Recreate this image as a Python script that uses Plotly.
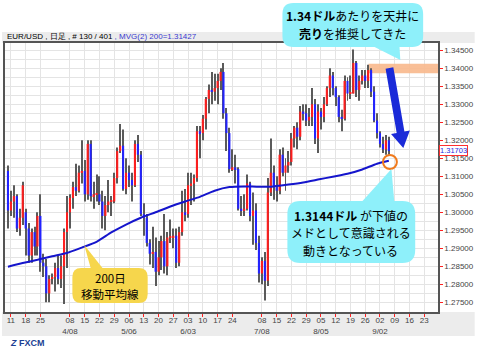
import plotly.graph_objects as go

# ---------------- data (EUR/USD daily, 2013-03-08 .. 2013-09-05) ----------------
opens = [1.3115, 1.3005, 1.3030, 1.3045, 1.2955, 1.2985, 1.3000, 1.2955, 1.2880, 1.2945,
         1.2905, 1.2990, 1.2860, 1.2850, 1.2775, 1.2815, 1.2820, 1.2845, 1.2815, 1.2850,
         1.2945, 1.3000, 1.3040, 1.3070, 1.3060, 1.3110, 1.3115, 1.3050, 1.3190, 1.3045,
         1.3050, 1.3050, 1.3030, 1.2990, 1.3020, 1.3030, 1.3030, 1.3095, 1.3170, 1.3185,
         1.3065, 1.3110, 1.3090, 1.3075, 1.3190, 1.3160, 1.2995, 1.2985, 1.2915, 1.2885,
         1.2890, 1.2835, 1.2875, 1.2920, 1.2850, 1.2930, 1.2930, 1.2935, 1.2860, 1.2945,
         1.3000, 1.2995, 1.3075, 1.3080, 1.3095, 1.3225, 1.3220, 1.3260, 1.3315, 1.3340,
         1.3335, 1.3345, 1.3365, 1.3390, 1.3275, 1.3220, 1.3120, 1.3125, 1.3120, 1.3010,
         1.3005, 1.3010, 1.3080, 1.2990, 1.3005, 1.2915, 1.2830, 1.2865, 1.2810, 1.3055,
         1.3110, 1.3070, 1.3060, 1.3160, 1.3110, 1.3130, 1.3140, 1.3205, 1.3235, 1.3210,
         1.3280, 1.3275, 1.3255, 1.3265, 1.3300, 1.3205, 1.3280, 1.3265, 1.3300, 1.3345,
         1.3380, 1.3345, 1.3320, 1.3265, 1.3260, 1.3365, 1.3330, 1.3330, 1.3415, 1.3340,
         1.3365, 1.3380, 1.3365, 1.3395, 1.3335, 1.3255, 1.3220, 1.3190, 1.3175, 1.3200]
highs = [1.3130, 1.3060, 1.3075, 1.3050, 1.3010, 1.3085, 1.3010, 1.2970, 1.2955, 1.2960,
         1.3000, 1.3050, 1.2885, 1.2870, 1.2825, 1.2830, 1.2860, 1.2880, 1.2880, 1.2955,
         1.3045, 1.3050, 1.3085, 1.3135, 1.3130, 1.3200, 1.3145, 1.3200, 1.3200, 1.3085,
         1.3105, 1.3100, 1.3060, 1.3045, 1.3090, 1.3045, 1.3110, 1.3180, 1.3245, 1.3230,
         1.3150, 1.3130, 1.3110, 1.3200, 1.3215, 1.3170, 1.3025, 1.2995, 1.2925, 1.2960,
         1.2930, 1.2920, 1.2935, 1.2995, 1.2945, 1.2980, 1.2955, 1.2955, 1.2960, 1.3060,
         1.3065, 1.3110, 1.3110, 1.3105, 1.3240, 1.3240, 1.3270, 1.3320, 1.3355, 1.3390,
         1.3385, 1.3385, 1.3400, 1.3415, 1.3290, 1.3235, 1.3175, 1.3160, 1.3125, 1.3045,
         1.3050, 1.3105, 1.3085, 1.3055, 1.3025, 1.2935, 1.2875, 1.2890, 1.3095, 1.3205,
         1.3130, 1.3100, 1.3175, 1.3180, 1.3150, 1.3170, 1.3220, 1.3240, 1.3250, 1.3295,
         1.3300, 1.3300, 1.3290, 1.3345, 1.3315, 1.3300, 1.3290, 1.3320, 1.3350, 1.3400,
         1.3390, 1.3350, 1.3325, 1.3285, 1.3380, 1.3375, 1.3380, 1.3452, 1.3420, 1.3380,
         1.3395, 1.3395, 1.3410, 1.3400, 1.3350, 1.3275, 1.3225, 1.3210, 1.3215, 1.3210]
lows = [1.2955, 1.2990, 1.2985, 1.2945, 1.2935, 1.2965, 1.2880, 1.2860, 1.2860, 1.2880,
        1.2880, 1.2835, 1.2820, 1.2750, 1.2750, 1.2800, 1.2780, 1.2800, 1.2790, 1.2745,
        1.2845, 1.2955, 1.3010, 1.3045, 1.3055, 1.3080, 1.3030, 1.3035, 1.3030, 1.3010,
        1.3030, 1.3020, 1.2955, 1.2950, 1.3000, 1.2990, 1.3025, 1.3080, 1.3165, 1.3060,
        1.3050, 1.3070, 1.3030, 1.3070, 1.3140, 1.2990, 1.2935, 1.2905, 1.2855, 1.2845,
        1.2795, 1.2825, 1.2840, 1.2830, 1.2825, 1.2915, 1.2900, 1.2845, 1.2850, 1.2935,
        1.2975, 1.2985, 1.3020, 1.3030, 1.3085, 1.3150, 1.3200, 1.3230, 1.3275, 1.3300,
        1.3310, 1.3300, 1.3340, 1.3260, 1.3170, 1.3110, 1.3115, 1.3080, 1.3005, 1.2990,
        1.2990, 1.3005, 1.2975, 1.2910, 1.2895, 1.2805, 1.2800, 1.2755, 1.2795, 1.3045,
        1.3035, 1.3030, 1.3050, 1.3100, 1.3060, 1.3110, 1.3130, 1.3180, 1.3175, 1.3200,
        1.3255, 1.3240, 1.3240, 1.3240, 1.3190, 1.3165, 1.3230, 1.3250, 1.3295, 1.3320,
        1.3325, 1.3295, 1.3250, 1.3225, 1.3255, 1.3310, 1.3315, 1.3330, 1.3320, 1.3310,
        1.3355, 1.3345, 1.3345, 1.3320, 1.3250, 1.3205, 1.3180, 1.3165, 1.3160, 1.3160]
closes = [1.3005, 1.3030, 1.3045, 1.2955, 1.2985, 1.3075, 1.2955, 1.2880, 1.2945, 1.2905,
          1.2990, 1.2860, 1.2850, 1.2775, 1.2815, 1.2820, 1.2845, 1.2815, 1.2850, 1.2945,
          1.3000, 1.3040, 1.3070, 1.3060, 1.3110, 1.3115, 1.3050, 1.3190, 1.3045, 1.3050,
          1.3050, 1.3030, 1.2990, 1.3020, 1.3030, 1.3030, 1.3095, 1.3170, 1.3185, 1.3065,
          1.3110, 1.3090, 1.3075, 1.3190, 1.3160, 1.2995, 1.2985, 1.2915, 1.2885, 1.2890,
          1.2835, 1.2875, 1.2920, 1.2850, 1.2930, 1.2930, 1.2935, 1.2860, 1.2945, 1.3000,
          1.2995, 1.3075, 1.3080, 1.3095, 1.3225, 1.3220, 1.3260, 1.3315, 1.3340, 1.3335,
          1.3345, 1.3365, 1.3390, 1.3275, 1.3220, 1.3120, 1.3125, 1.3120, 1.3010, 1.3005,
          1.3010, 1.3080, 1.2990, 1.3005, 1.2915, 1.2830, 1.2865, 1.2810, 1.3055, 1.3110,
          1.3070, 1.3060, 1.3160, 1.3110, 1.3130, 1.3140, 1.3205, 1.3235, 1.3210, 1.3280,
          1.3275, 1.3255, 1.3265, 1.3300, 1.3205, 1.3280, 1.3265, 1.3300, 1.3345, 1.3380,
          1.3345, 1.3320, 1.3265, 1.3260, 1.3365, 1.3330, 1.3330, 1.3415, 1.3340, 1.3365,
          1.3380, 1.3365, 1.3395, 1.3335, 1.3255, 1.3220, 1.3190, 1.3175, 1.3200, 1.3170]

# 200-day moving average, read at every 5th bar
ma_idx = [0, 5, 10, 15, 20, 25, 30, 35, 40, 45, 50, 55, 60, 65, 70, 75, 80, 85, 90, 95,
          100, 105, 110, 115, 120, 125, 129]
ma_vals = [1.2849, 1.2859, 1.2868, 1.2878, 1.2887, 1.2902, 1.2918, 1.2944, 1.2966, 1.2985,
           1.3000, 1.3016, 1.3030, 1.3043, 1.3060, 1.3070, 1.3072, 1.3071, 1.3072, 1.3077,
           1.3083, 1.3091, 1.3099, 1.3107, 1.3119, 1.3135, 1.3143]

tick_idx = [1, 6, 11, 21, 26, 31, 36, 41, 46, 51, 56, 61, 66, 71, 76, 86, 91, 96, 101,
            106, 111, 116, 121, 126, 131, 136, 141]
tick_text = ["11", "18", "25", "08<br>4/08", "15", "22", "29", "06<br>5/06", "13", "20",
             "27", "03<br>6/03", "10", "17", "24", "08<br>7/08", "15", "22", "29",
             "05<br>8/05", "12", "19", "26", "02<br>9/02", "09", "16", "23"]

last_price = 1.31703
ceiling = 1.34
support = 1.3144

# ---------------- helpers ----------------
W, H = 477, 351
PL, PR, PT, PB = 3, 440, 43, 312


def px(x):
    return (x - PL) / (PR - PL)


def py(y):
    return (PB - y) / (PB - PT)


def rrect(x0, y0, x1, y1, r):
    pts = [
        f"M{px(x0 + r)},{py(y0)}", f"L{px(x1 - r)},{py(y0)}",
        f"Q{px(x1)},{py(y0)} {px(x1)},{py(y0 + r)}",
        f"L{px(x1)},{py(y1 - r)}",
        f"Q{px(x1)},{py(y1)} {px(x1 - r)},{py(y1)}",
        f"L{px(x0 + r)},{py(y1)}",
        f"Q{px(x0)},{py(y1)} {px(x0)},{py(y1 - r)}",
        f"L{px(x0)},{py(y0 + r)}",
        f"Q{px(x0)},{py(y0)} {px(x0 + r)},{py(y0)}", "Z"]
    return " ".join(pts)


def poly(points):
    s = " ".join(("M" if k == 0 else "L") + f"{px(x)},{py(y)}" for k, (x, y) in enumerate(points))
    return s + " Z"


idx = list(range(len(opens)))
body_lo = [min(o, c) for o, c in zip(opens, closes)]
body_h = [max(abs(c - o), 0.00015) for o, c in zip(opens, closes)]
body_col = ["#ff1e1e" if c >= o else "#2323ff" for o, c in zip(opens, closes)]
wick_h = [h - l for h, l in zip(highs, lows)]

fig = go.Figure()
fig.add_trace(go.Bar(x=idx, base=lows, y=wick_h, width=0.34,
                     marker=dict(color="#5a5a5a", line=dict(width=0)), hoverinfo="skip"))
fig.add_trace(go.Bar(x=idx, base=body_lo, y=body_h, width=0.7,
                     marker=dict(color=body_col, line=dict(width=0)), hoverinfo="skip"))
fig.add_trace(go.Scatter(x=ma_idx, y=ma_vals, mode="lines",
                         line=dict(color="#1515cc", width=2, shape="spline", smoothing=0.6),
                         hoverinfo="skip"))

CYAN = "#8ef0fa"
YEL = "#f6d64c"
shapes = []
shapes.append(dict(type="rect", xref="paper", yref="paper", x0=px(0), x1=px(W), y0=py(43), y1=py(32),
                   fillcolor="#ececec", line=dict(width=0), layer="below"))
shapes.append(dict(type="rect", xref="paper", yref="paper", x0=px(0), x1=px(W), y0=py(336), y1=py(312),
                   fillcolor="#ececec", line=dict(width=0), layer="below"))
shapes.append(dict(type="rect", xref="x", yref="y", x0=122.1, x1=145.7, y0=ceiling - 0.00135,
                   y1=ceiling + 0.00125, fillcolor="#f8b88c", opacity=0.9, line=dict(width=0),
                   layer="between"))
shapes.append(dict(type="path", xref="paper", yref="paper",
                   path=poly([(394.9, 67.3), (406.1, 131.5), (411.6, 130.5), (405.0, 148.0),
                              (392.6, 133.9), (398.3, 132.9), (387.1, 68.7)]),
                   fillcolor="#1a2ad8", line=dict(width=0)))
shapes.append(dict(type="circle", xref="paper", yref="paper", x0=px(384.5), x1=px(398.5),
                   y0=py(169), y1=py(155), line=dict(color="#f07a1c", width=2)))
shapes.append(dict(type="path", xref="paper", yref="paper", path=rrect(283, 3, 425, 47, 11),
                   fillcolor=CYAN, line=dict(width=0)))
shapes.append(dict(type="path", xref="paper", yref="paper",
                   path=poly([(372, 45), (401, 45), (402, 60)]), fillcolor=CYAN, line=dict(width=0)))
shapes.append(dict(type="path", xref="paper", yref="paper", path=rrect(288, 201, 417, 263, 13),
                   fillcolor=CYAN, line=dict(width=0)))
shapes.append(dict(type="path", xref="paper", yref="paper",
                   path=poly([(362, 203), (393, 169), (396, 203)]), fillcolor=CYAN, line=dict(width=0)))
shapes.append(dict(type="path", xref="paper", yref="paper", path=rrect(71, 268, 147, 303, 9),
                   fillcolor=YEL, line=dict(width=0)))
shapes.append(dict(type="path", xref="paper", yref="paper",
                   path=poly([(90, 270), (83, 245), (103, 270)]), fillcolor=YEL, line=dict(width=0)))

JP = "Noto Sans CJK JP"
ann = []


def txt(x, y, s, size=12, color="black", xanchor="center", family=JP):
    ann.append(dict(xref="paper", yref="paper", x=px(x), y=py(y), text=s, showarrow=False,
                    xanchor=xanchor, yanchor="middle", align="center",
                    font=dict(family=family, size=size, color=color)))


txt(354, 15.5, "<b>1.34ドル</b>あたりを天井に")
txt(354, 33, "<b>売り</b>を推奨してきた")
txt(352, 215, "<b>1.3144ドル</b> が下値の")
txt(352, 232.5, "メドとして意識される")
txt(352, 250, "動きとなっている")
txt(109, 277.5, "200日", size=11.5)
txt(109, 294, "移動平均線", size=11.5)
txt(3, 37, "EUR/USD , 日足 , # 130 / 401 <span style='color:#3a3ad0'>, MVG(2) 200=1.31427</span>",
    size=8, xanchor="left", family="Liberation Sans")
txt(6, 343, "<b><i>Z</i> FXCM</b>", size=9, color="#1c3f94", xanchor="left", family="Liberation Sans")
ann.append(dict(xref="paper", yref="y", x=1, xanchor="left", xshift=1, y=last_price, yshift=1,
                yanchor="middle", text="1.31703", showarrow=False, bgcolor="white",
                bordercolor="#ff3030", borderwidth=1, borderpad=0,
                font=dict(family="Liberation Sans", size=7.5, color="#2a2ae0")))

fig.update_layout(
    width=W, height=H, margin=dict(l=PL, r=W - PR, t=PT, b=H - PB),
    paper_bgcolor="white", plot_bgcolor="white", showlegend=False, barmode="overlay",
    hovermode=False, shapes=shapes, annotations=ann,
    xaxis=dict(range=[-1.0, 145.65], tickmode="array", tickvals=tick_idx, ticktext=tick_text,
               tickangle=0, showgrid=True, gridcolor="#e4e4e4", gridwidth=1, zeroline=False,
               ticks="outside", ticklen=3, tickcolor="#ff2020", ticklabelstandoff=-3,
               showline=True, linecolor="#555555", linewidth=1.5, mirror=True,
               tickfont=dict(family="Liberation Sans", size=8, color="#444444")),
    yaxis=dict(range=[1.27231, 1.34703], side="right", tick0=1.275, dtick=0.005,
               tickformat=".5f", showgrid=True, gridcolor="#e4e4e4", zeroline=False,
               minor=dict(dtick=0.0025, tick0=1.275, showgrid=True, gridcolor="#e4e4e4", ticks=""),
               ticks="outside", ticklen=3, tickcolor="#ff2020",
               showline=True, linecolor="#555555", linewidth=1.5, mirror=True,
               tickfont=dict(family="Liberation Sans", size=8, color="#444444")),
)

fig.write_html("out.html")
